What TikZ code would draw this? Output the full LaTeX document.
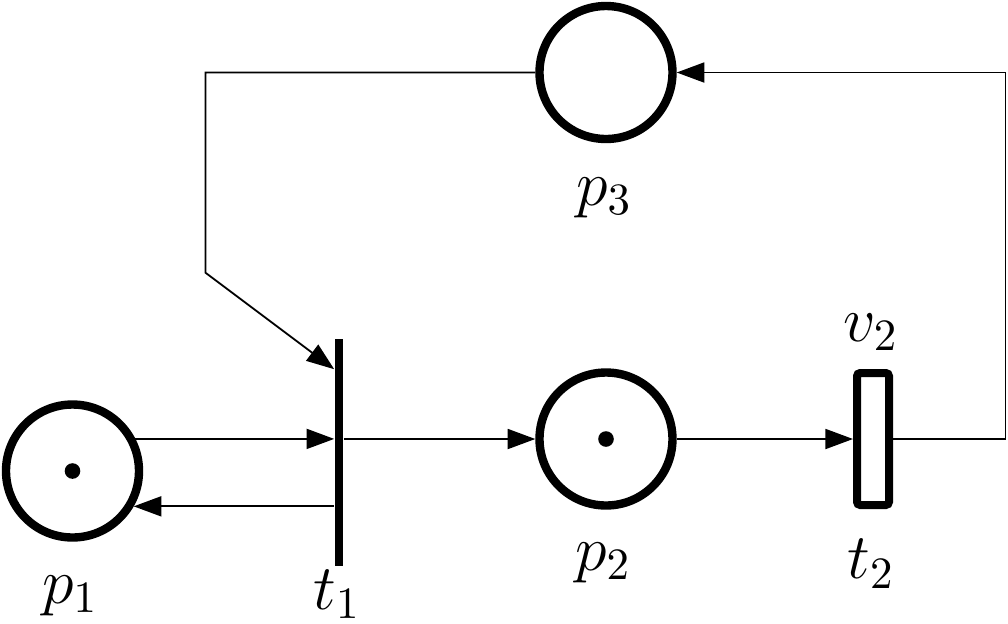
\RequirePackage{fix-cm}
\documentclass[tikz,border=0pt]{standalone}
\usetikzlibrary{arrows.meta,calc}
\begin{document}
\begin{tikzpicture}[x=0.25pt,y=-0.25pt,
  place/.style={circle,draw,line width=2.1pt,minimum size=33.25pt,inner sep=0pt},
  token/.style={circle,fill,minimum size=3.9pt,inner sep=0pt},
  bar/.style={rectangle,fill,minimum width=2pt,minimum height=56.75pt,inner sep=0pt},
  box/.style={rectangle,draw,line width=2pt,rounded corners=0.8pt,minimum width=8pt,minimum height=33pt,inner sep=0pt},
  arc/.style={line width=0.45pt,-{Triangle[length=6.9pt,width=5pt]}},
  lbl/.style={anchor=base,inner sep=0pt,font=\fontsize{16}{19}\selectfont}]
\useasboundingbox (0,0) rectangle (1008,623);
% places
\node[place] (p1) at (72.5,471) {};
\node[token] (k1) at (72.5,471) {};
\node[place] (p2) at (606,439) {};
\node[token] (k2) at (606,439) {};
\node[place] (p3) at (606,72.5) {};
% transitions
\node[bar] (t1) at (339,452.5) {};
\node[box] (t2) at (873,439) {};
% helper coordinates
\coordinate (c1) at (205.5,72.5);
\coordinate (c2) at (205.5,272.7);
\coordinate (c3) at (1005.5,72.5);
\coordinate (d1) at ($(t1.north west)+(0,31)$);
% arcs
\draw[arc] (p1.27) -- (p1.27 -| t1.west);
\draw[arc] (t1.west |- p1.-30) -- (p1.-30);
\draw[arc] (t1.east |- p2) -- (p2);
\draw[arc] (p2) -- (t2);
\draw[arc] (t2.east) -- (c3 |- t2) -- (c3) -- (p3.east);
\draw[arc] (p3.west) -- (c1) -- (c2) -- (d1);
% labels
\node[lbl] (l1) at (70,603) {$p_1$};
\node[lbl] (l2) at (603,570) {$p_2$};
\node[lbl] (l3) at (604,205) {$p_3$};
\node[lbl] (l4) at (337,609) {$t_1$};
\node[lbl] (l5) at (871,578.5) {$t_2$};
\node[lbl] (l6) at (871,341) {$v_2$};
\end{tikzpicture}
\end{document}
